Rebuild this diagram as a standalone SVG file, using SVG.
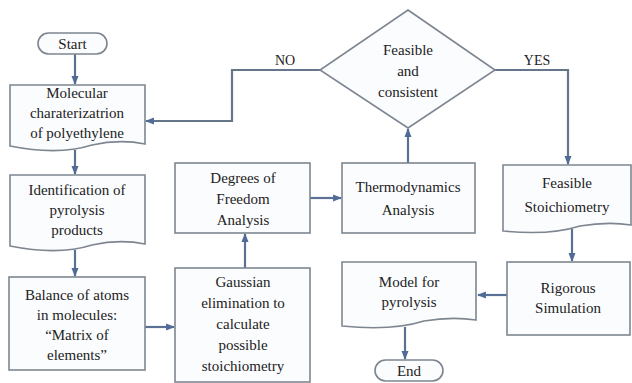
<svg xmlns="http://www.w3.org/2000/svg" width="632" height="383" viewBox="0 0 632 383">
<defs>
<marker id="ah" viewBox="0 0 10 10" refX="9" refY="5" markerWidth="4" markerHeight="4" orient="auto" markerUnits="strokeWidth">
<path d="M0,1 L10,5 L0,9 z" fill="#4f6b96"/>
</marker>
</defs>
<style>
.box{fill:#fbfcfe;stroke:#7d8690;stroke-width:1.6}
text{font-family:'Liberation Serif','DejaVu Serif',serif}
.t{font-size:15px;fill:#222;text-anchor:middle}
.lbl{font-size:14px;fill:#222;text-anchor:middle}
.c{fill:none;stroke:#5a7196;stroke-width:2.2}
.cg{fill:none;stroke:#66768a;stroke-width:2.2}
</style>
<rect width="632" height="383" fill="#ffffff"/>
<g id="connectors">
<line class="c" x1="75" y1="54" x2="75" y2="84" marker-end="url(#ah)"/>
<line class="c" x1="75" y1="150" x2="75" y2="174" marker-end="url(#ah)"/>
<line class="c" x1="75" y1="250" x2="75" y2="276" marker-end="url(#ah)"/>
<line class="c" x1="145" y1="327" x2="174" y2="327" marker-end="url(#ah)"/>
<line class="c" x1="245" y1="268" x2="245" y2="234" marker-end="url(#ah)"/>
<line class="c" x1="310" y1="198" x2="341" y2="198" marker-end="url(#ah)"/>
<line class="c" x1="408" y1="163" x2="408" y2="129" marker-end="url(#ah)"/>
<polyline class="cg" points="320,70 232,70 232,121 146,121" marker-end="url(#ah)"/>
<polyline class="cg" points="495,70 568,70 568,164" marker-end="url(#ah)"/>
<line class="c" x1="572" y1="229" x2="572" y2="261" marker-end="url(#ah)"/>
<line class="c" x1="507" y1="295" x2="478" y2="295" marker-end="url(#ah)"/>
<line class="c" x1="405" y1="327" x2="405" y2="359" marker-end="url(#ah)"/>
<text class="lbl" x="285" y="65">NO</text>
<text class="lbl" x="537" y="65">YES</text>
</g>
<g id="start">
<rect class="box" x="38" y="33" width="69" height="21" rx="10.5"/>
<text class="t" x="72.5" y="48.5">Start</text>
</g>
<g id="molecular">
<path class="box" d="M10,85 H145 V144 C125,140 110,141 92,145 C70,152 40,152 10,146 Z"/>
<text class="t" x="77" y="98">Molecular</text>
<text class="t" x="77" y="118">charaterizatrion</text>
<text class="t" x="77" y="138">of polyethylene</text>
</g>
<g id="identification">
<path class="box" d="M10,175 H145 V244 C125,240 110,241 92,245 C70,252 40,252 10,246 Z"/>
<text class="t" x="77" y="195">Identification of</text>
<text class="t" x="77" y="215">pyrolysis</text>
<text class="t" x="77" y="235">products</text>
</g>
<g id="balance">
<rect class="box" x="9" y="277" width="136" height="93"/>
<text class="t" x="77" y="300">Balance of atoms</text>
<text class="t" x="77" y="320">in molecules:</text>
<text class="t" x="77" y="340">“Matrix of</text>
<text class="t" x="77" y="360">elements”</text>
</g>
<g id="gaussian">
<rect class="box" x="175" y="268" width="135" height="114"/>
<text class="t" x="243" y="287">Gaussian</text>
<text class="t" x="243" y="308">elimination to</text>
<text class="t" x="243" y="329">calculate</text>
<text class="t" x="243" y="350">possible</text>
<text class="t" x="243" y="371">stoichiometry</text>
</g>
<g id="degrees">
<rect class="box" x="175" y="163" width="135" height="70"/>
<text class="t" x="243" y="183">Degrees of</text>
<text class="t" x="243" y="204">Freedom</text>
<text class="t" x="243" y="225">Analysis</text>
</g>
<g id="thermo">
<rect class="box" x="342" y="163" width="133" height="70"/>
<text class="t" x="408" y="192">Thermodynamics</text>
<text class="t" x="408" y="215">Analysis</text>
</g>
<g id="decision">
<path class="box" d="M408,10 L495,70 L408,128 L320,70 Z"/>
<text class="t" x="408" y="55">Feasible</text>
<text class="t" x="408" y="76">and</text>
<text class="t" x="408" y="97">consistent</text>
</g>
<g id="feasible">
<path class="box" d="M503,165 H631 V225 C612,222 598,223 580,226 C558,233 532,234 503,231 Z"/>
<text class="t" x="567" y="188">Feasible</text>
<text class="t" x="567" y="212">Stoichiometry</text>
</g>
<g id="rigorous">
<rect class="box" x="507" y="262" width="123" height="73"/>
<text class="t" x="568" y="293">Rigorous</text>
<text class="t" x="568" y="313">Simulation</text>
</g>
<g id="model">
<path class="box" d="M342,262 H476 V320 C456,317 442,318 424,321 C402,328 372,329 342,326 Z"/>
<text class="t" x="409" y="287">Model for</text>
<text class="t" x="409" y="307">pyrolysis</text>
</g>
<g id="end">
<rect class="box" x="375" y="360" width="68" height="21" rx="10.5"/>
<text class="t" x="409" y="375.5">End</text>
</g>
</svg>
